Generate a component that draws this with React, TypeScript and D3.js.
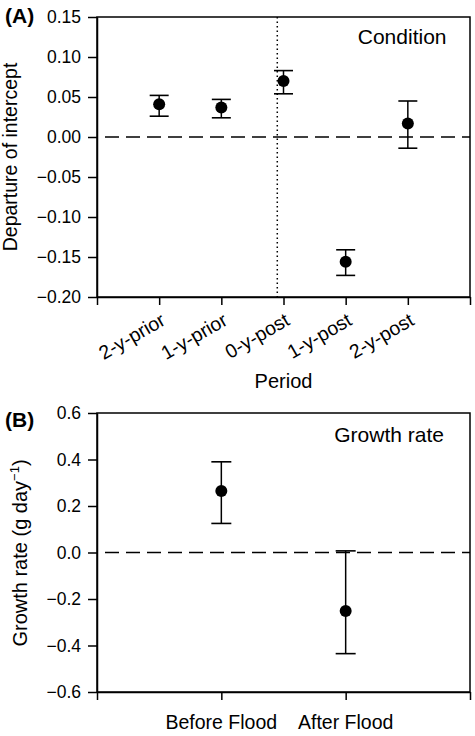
import React, { useEffect, useRef } from "react";
import * as d3 from "d3";

const periods = ["2-y-prior", "1-y-prior", "0-y-post", "1-y-post", "2-y-post"];
const condMean = [0.041, 0.037, 0.07, -0.156, 0.017];
const condLower = [0.026, 0.024, 0.054, -0.173, -0.014];
const condUpper = [0.052, 0.047, 0.083, -0.141, 0.045];
const condTicks = [-0.2, -0.15, -0.1, -0.05, 0, 0.05, 0.1, 0.15];
const floodMarker = 2.9;

const phases = ["Before Flood", "After Flood"];
const growthMean = [0.265, -0.252];
const growthLower = [0.125, -0.435];
const growthUpper = [0.39, 0.007];
const growthTicks = [-0.6, -0.4, -0.2, 0, 0.2, 0.4, 0.6];

const FONT = "'Liberation Sans', Arial, Helvetica, sans-serif";

export default function App() {
  const ref = useRef<SVGSVGElement>(null);

  useEffect(() => {
    const svg = d3.select(ref.current);
    svg.selectAll("*").remove();
    const L = 97, R = 470;

    const drawPanel = (opts: any) => {
      const { top, bottom, yDomain, yTicks, yFmt, xDomain, xTickVals } = opts;
      const g = svg.append("g");
      const x = d3.scaleLinear().domain(xDomain).range([L, R]);
      const y = d3.scaleLinear().domain(yDomain).range([bottom, top]);

      g.append("rect").attr("x", L).attr("y", top).attr("width", R - L).attr("height", bottom - top)
        .attr("fill", "none").attr("stroke", "#000").attr("stroke-width", 1.5);

      const ya = g.append("g").attr("transform", `translate(${L},0)`)
        .call(d3.axisLeft(y).tickValues(yTicks).tickFormat(d3.format(yFmt)).tickSize(9).tickSizeOuter(0).tickPadding(7));
      ya.select(".domain").attr("stroke-width", 1.5);
      ya.selectAll(".tick line").attr("stroke-width", 1.5);
      ya.selectAll(".tick text").attr("font-family", FONT).attr("font-size", 17.5).attr("fill", "#000");

      const xa = g.append("g").attr("transform", `translate(0,${bottom})`)
        .call(d3.axisBottom(x).tickValues(xTickVals).tickFormat(() => "").tickSize(8).tickSizeOuter(0));
      xa.select(".domain").attr("stroke-width", 1.5);
      xa.selectAll(".tick line").attr("stroke-width", 1.5);

      g.append("line").attr("x1", L).attr("x2", R).attr("y1", y(0)).attr("y2", y(0))
        .attr("stroke", "#000").attr("stroke-width", 1.6).attr("stroke-dasharray", "14 7").attr("stroke-dashoffset", -8);

      return { g, x, y };
    };

    const drawPoints = (P: any, mean: number[], lo: number[], hi: number[], capHalf: number) => {
      mean.forEach((m, i) => {
        const cx = P.x(i + 1);
        P.g.append("line").attr("x1", cx).attr("x2", cx).attr("y1", P.y(lo[i])).attr("y2", P.y(hi[i]))
          .attr("stroke", "#000").attr("stroke-width", 1.5);
        [lo[i], hi[i]].forEach((v) => {
          P.g.append("line").attr("x1", cx - capHalf).attr("x2", cx + capHalf).attr("y1", P.y(v)).attr("y2", P.y(v))
            .attr("stroke", "#000").attr("stroke-width", 1.6);
        });
        P.g.append("circle").attr("cx", cx).attr("cy", P.y(m)).attr("r", 6).attr("fill", "#000");
      });
    };

    // Panel A
    const A = drawPanel({
      top: 17, bottom: 297, yDomain: [-0.2, 0.15], yTicks: condTicks, yFmt: ".2f",
      xDomain: [0, 6], xTickVals: [0, 1, 2, 3, 4, 5, 6],
    });
    A.g.append("line").attr("x1", A.x(floodMarker)).attr("x2", A.x(floodMarker)).attr("y1", 17).attr("y2", 297)
      .attr("stroke", "#000").attr("stroke-width", 1.5).attr("stroke-dasharray", "1.5 3");
    drawPoints(A, condMean, condLower, condUpper, 9.5);

    periods.forEach((p, i) => {
      A.g.append("text").text(p)
        .attr("transform", `translate(${A.x(i + 1) + 7.5},324) rotate(-30)`)
        .attr("text-anchor", "end").attr("font-family", FONT).attr("font-size", 19.5).attr("fill", "#000");
    });

    svg.append("text").text("Period").attr("x", (L + R) / 2).attr("y", 388).attr("text-anchor", "middle")
      .attr("font-family", FONT).attr("font-size", 20);
    svg.append("text").text("Condition").attr("x", 446.5).attr("y", 44).attr("text-anchor", "end")
      .attr("font-family", FONT).attr("font-size", 21);
    svg.append("text").text("(A)").attr("x", 5).attr("y", 23)
      .attr("font-family", FONT).attr("font-size", 21).attr("font-weight", "bold");
    svg.append("text").text("Departure of intercept")
      .attr("transform", `translate(17,157) rotate(-90)`).attr("text-anchor", "middle")
      .attr("font-family", FONT).attr("font-size", 19.5);

    // Panel B
    const B = drawPanel({
      top: 413, bottom: 692, yDomain: [-0.6, 0.6], yTicks: growthTicks, yFmt: ".1f",
      xDomain: [0, 3], xTickVals: [0, 1, 2, 3],
    });
    drawPoints(B, growthMean, growthLower, growthUpper, 10);
    phases.forEach((p, i) => {
      B.g.append("text").text(p).attr("x", B.x(i + 1)).attr("y", 729).attr("text-anchor", "middle")
        .attr("font-family", FONT).attr("font-size", 19.5).attr("fill", "#000");
    });
    svg.append("text").text("Growth rate").attr("x", 444).attr("y", 442).attr("text-anchor", "end")
      .attr("font-family", FONT).attr("font-size", 21);
    svg.append("text").text("(B)").attr("x", 5).attr("y", 427)
      .attr("font-family", FONT).attr("font-size", 21).attr("font-weight", "bold");
    const yt = svg.append("text")
      .attr("transform", `translate(27,553) rotate(-90)`).attr("text-anchor", "middle")
      .attr("font-family", FONT).attr("font-size", 20);
    yt.append("tspan").text("Growth rate (g day");
    yt.append("tspan").text("\u22121").attr("font-size", 13).attr("dy", -8);
    yt.append("tspan").text(")").attr("dy", 8);
  }, []);

  return (
    <svg ref={ref} width={475} height={736} style={{ position: "absolute", left: 0, top: 0, display: "block", background: "#fff" }} />
  );
}
